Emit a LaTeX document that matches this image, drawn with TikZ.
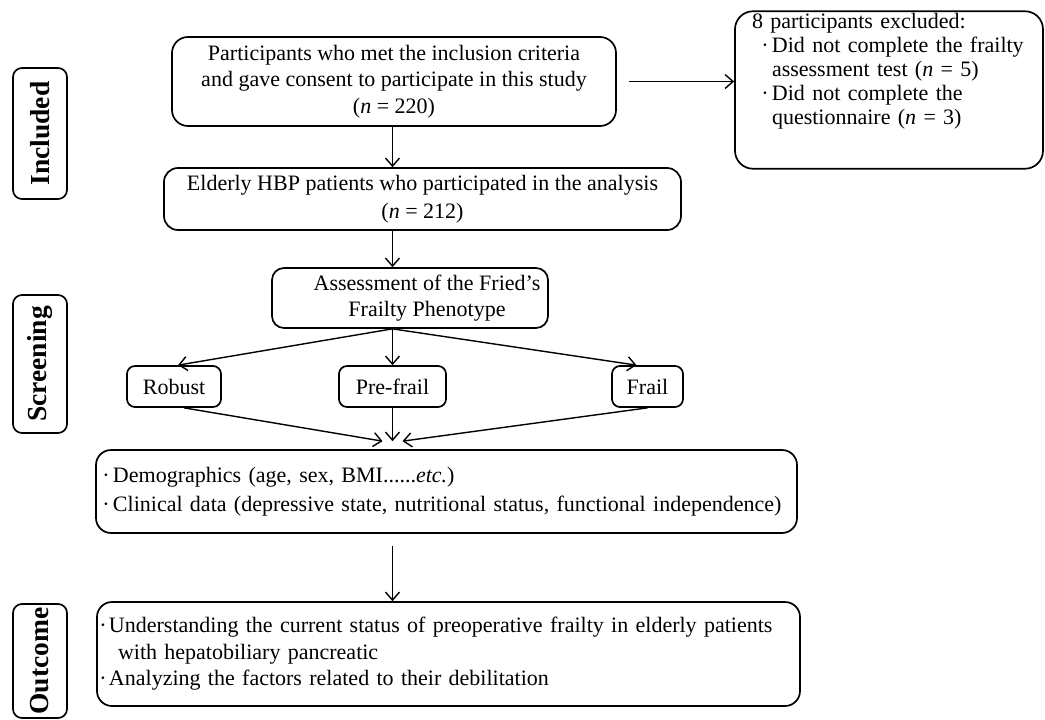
\documentclass[tikz,border=0pt]{standalone}
\usepackage{fontspec}
\setmainfont{Liberation Serif}
\usetikzlibrary{arrows.meta,positioning}

\newcommand{\bul}[1]{\makebox[#1][c]{·}}

\begin{document}
\begin{tikzpicture}[x=1pt, y=-1pt, font=\fontsize{22}{26.5}\selectfont,
 box/.style={draw, line width=1.7pt, rounded corners=14pt, align=center, inner sep=2pt},
 small/.style={box, rounded corners=8pt, minimum height=41pt},
 side/.style={draw, line width=1.7pt, rounded corners=9pt, rotate=90, minimum height=54pt, inner sep=0pt, font=\fontsize{27.5}{30}\selectfont\bfseries},
 arr/.style={-{Straight Barb[length=8pt, width=14pt, line width=1.4pt]}, line width=1.4pt}]

 \useasboundingbox (0,0) rectangle (1045,720);

 % --- side labels ---
 \node[side, minimum width=131pt] (incl) at (40,133.5) {Included};
 \node[side, minimum width=138pt] (scr) at (40,364) {Screening};
 \node[side, minimum width=114pt] (outl) at (40,661) {Outcome};

 % --- included ---
 \node[box, rounded corners=16pt, minimum width=444pt, minimum height=89pt] (part) at (394,81.5) {Participants who met the inclusion criteria\\and gave consent to participate in this study\\(\textit{n} = 220)};
 \node[box, rounded corners=18pt, align=left, text width=288pt, inner xsep=10pt, minimum height=154pt,
  font=\fontsize{22}{24}\selectfont] (excl) at (889,90) {\hspace*{7pt}8 participants excluded:\\
  \hspace*{13pt}\bul{14pt}Did not complete the frailty\\
  \hspace*{27pt}assessment test (\textit{n} = 5)\\
  \hspace*{13pt}\bul{14pt}Did not complete the\\
  \hspace*{27pt}questionnaire (\textit{n} = 3)\\[11pt]\strut};
 \node[box, minimum width=517pt, minimum height=62pt] (elder) at (422.5,199) {Elderly HBP patients who participated in the analysis\\[1.5pt](\textit{n} = 212)};

 % --- screening ---
 \node[box, rounded corners=12pt, minimum width=276pt, minimum height=60pt] (assess) at (410,298) {\hspace*{34pt}Assessment of the Fried’s\\\hspace*{34pt}Frailty Phenotype};
 \node[small, minimum width=94pt] (robust) at (174,386.5) {Robust};
 \node[small, minimum width=107pt] (prefrail) at (392.5,386.5) {Pre-frail};
 \node[small, minimum width=71pt] (frail) at (647.5,386.5) {Frail};
 \node[box, rounded corners=15pt, align=left, text width=695pt, inner xsep=3pt, minimum height=83pt] (demo) at (446.5,491.5) {\bul{14pt}Demographics (age, sex, BMI......\textit{etc.})\\[3pt]\bul{14pt}Clinical data (depressive state, nutritional status, functional independence)};

 % --- outcome ---
 \node[box, rounded corners=15pt, align=left, text width=703pt, inner xsep=0pt, minimum height=104pt] (outc) at (448.5,654) {\bul{12pt}Understanding the current status of preoperative frailty in elderly patients\\[0pt]\hspace*{21pt}with hepatobiliary pancreatic\\[0pt]\bul{12pt}Analyzing the factors related to their debilitation};

 \draw[arr] ([xshift=12pt]part.east) -- (excl.west |- part.east);
 \draw[arr] (part.south -| prefrail) -- (elder.north -| prefrail);
 \draw[arr] (elder.south -| prefrail) -- (assess.north -| prefrail);
 \draw[arr] (assess.south -| prefrail) -- ([xshift=4pt]robust.north);
 \draw[arr] (assess.south -| prefrail) -- (prefrail.north);
 \draw[arr] (assess.south -| prefrail) -- ([xshift=-11pt]frail.north);
 \draw[arr] ([xshift=10pt]robust.south) -- ([xshift=-10pt,yshift=8pt]demo.north -| prefrail);
 \draw[arr] (prefrail.south) -- ([yshift=8pt]demo.north -| prefrail);
 \draw[arr] (frail.south) -- ([xshift=10pt,yshift=8pt]demo.north -| prefrail);
 \draw[arr] ([yshift=-12pt]demo.south -| prefrail) -- (outc.north -| prefrail);
\end{tikzpicture}
\end{document}
